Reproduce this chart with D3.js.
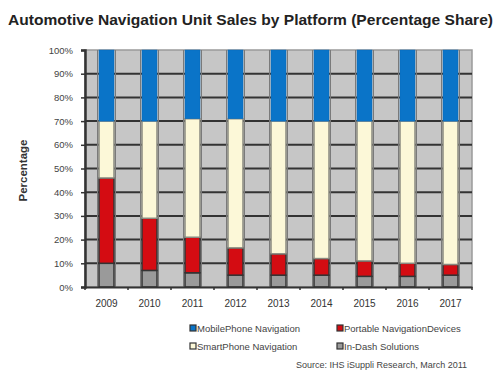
<!DOCTYPE html>
<html>
<head>
<meta charset="utf-8">
<script src="https://cdn.jsdelivr.net/npm/d3@7"></script>
<style>
  body { margin: 0; background: #fff; }
  svg { font-family: "Liberation Sans", Arial, sans-serif; }
</style>
</head>
<body>
<div id="chart"></div>
<script>
const years = ['2009', '2010', '2011', '2012', '2013', '2014', '2015', '2016', '2017'];
const inDash = [10, 7, 6, 5, 5, 5, 4.5, 4.5, 5];
const portable = [36, 22, 15, 11.5, 9, 7, 6.5, 5.5, 4.5];
const smartPhone = [24, 41, 50, 54.5, 56, 58, 59, 60, 60.5];
const mobilePhone = [30, 30, 29, 29, 30, 30, 30, 30, 30];
const yTicks = [0, 10, 20, 30, 40, 50, 60, 70, 80, 90, 100];

const series = [
  { key: 'inDash', name: 'In-Dash Solutions', values: inDash, color: '#9a9a9a' },
  { key: 'portable', name: 'Portable NavigationDevices', values: portable, color: '#d40c12' },
  { key: 'smartPhone', name: 'SmartPhone Navigation', values: smartPhone, color: '#fcf8d8' },
  { key: 'mobilePhone', name: 'MobilePhone Navigation', values: mobilePhone, color: '#0a74c8' }
];

const width = 500, height = 375;
const margin = { top: 50, right: 28, bottom: 88, left: 85 };
const innerW = width - margin.left - margin.right;
const innerH = height - margin.top - margin.bottom;

const rows = years.map((y, i) => {
  const r = { year: y };
  series.forEach(s => { r[s.key] = s.values[i]; });
  return r;
});

const stack = d3.stack().keys(series.map(s => s.key));
const stacked = stack(rows);

const x = d3.scaleBand().domain(years).range([0, innerW]);
const y = d3.scaleLinear().domain([0, 100]).range([innerH, 0]);
const barW = 15;

const svg = d3.select('#chart').append('svg')
  .attr('width', width)
  .attr('height', height);

svg.append('text')
  .attr('x', 8)
  .attr('y', 25)
  .attr('font-size', '15px')
  .attr('font-weight', 'bold')
  .attr('fill', '#222')
  .attr('textLength', 485)
  .attr('lengthAdjust', 'spacingAndGlyphs')
  .text('Automotive Navigation Unit Sales by Platform (Percentage Share)');

const g = svg.append('g')
  .attr('transform', `translate(${margin.left},${margin.top})`);

// plot background
g.append('rect')
  .attr('width', innerW)
  .attr('height', innerH)
  .attr('fill', '#c6c6c6')
  .attr('stroke', '#9a9a9a')
  .attr('stroke-width', 1.5);

// horizontal grid
g.selectAll('.grid')
  .data(yTicks.slice(1, -1))
  .join('line')
  .attr('x1', 0)
  .attr('x2', innerW)
  .attr('y1', d => y(d))
  .attr('y2', d => y(d))
  .attr('stroke', '#333')
  .attr('stroke-width', 2);

// faint vertical lines along bar sides
g.selectAll('.vline')
  .data(years.flatMap(yr => [x(yr) + x.bandwidth() / 2 - barW / 2 - 1.5, x(yr) + x.bandwidth() / 2 + barW / 2 + 1.5]))
  .join('line')
  .attr('x1', d => d)
  .attr('x2', d => d)
  .attr('y1', 0)
  .attr('y2', innerH)
  .attr('stroke', '#7a7a7a')
  .attr('stroke-width', 1);

// bars
const layer = g.selectAll('.layer')
  .data(stacked)
  .join('g')
  .attr('fill', (d, i) => series[i].color);

layer.selectAll('rect')
  .data(d => d.map(v => ({ v, key: d.key })))
  .join('rect')
  .attr('x', d => x(d.v.data.year) + x.bandwidth() / 2 - barW / 2)
  .attr('width', barW)
  .attr('y', d => y(d.v[1]))
  .attr('height', d => y(d.v[0]) - y(d.v[1]))
  .attr('stroke', d => d.key === 'smartPhone' ? '#8a8a80' : (d.key === 'mobilePhone' ? '#0a6ab8' : '#333'))
  .attr('stroke-width', d => d.key === 'mobilePhone' ? 0.5 : 1.5);

// y axis
const yAxis = g.append('g')
  .call(d3.axisLeft(y).tickValues(yTicks).tickFormat(d => d + '%').tickSize(4));
yAxis.select('.domain').attr('stroke', '#333').attr('stroke-width', 2.5);
yAxis.selectAll('.tick line').attr('stroke', '#333').attr('stroke-width', 1.5);
yAxis.selectAll('text')
  .attr('font-size', '9.5px')
  .attr('fill', '#444')
  .attr('x', -12);

// x axis
const xAxis = g.append('g')
  .attr('transform', `translate(0,${innerH})`)
  .call(d3.axisBottom(x).tickSize(0).tickPadding(13));
xAxis.select('.domain').attr('stroke', '#333').attr('stroke-width', 2);
xAxis.selectAll('text')
  .attr('font-size', '10px')
  .attr('fill', '#333');

// ticks at band boundaries
g.selectAll('.xtick')
  .data(years.map(yr => x(yr)).concat([innerW]))
  .join('line')
  .attr('x1', d => d)
  .attr('x2', d => d)
  .attr('y1', innerH)
  .attr('y2', innerH + 3)
  .attr('stroke', '#333')
  .attr('stroke-width', 1.5);

svg.append('text')
  .attr('transform', `translate(27,${margin.top + innerH / 2 + 2}) rotate(-90)`)
  .attr('text-anchor', 'middle')
  .attr('font-size', '11.5px')
  .attr('font-weight', 'bold')
  .attr('fill', '#333')
  .text('Percentage');

// legend
const legendItems = [
  { s: series[3], x: 190, y: 329 },
  { s: series[1], x: 337, y: 329 },
  { s: series[2], x: 190, y: 347 },
  { s: series[0], x: 337, y: 347 }
];
const leg = svg.selectAll('.leg')
  .data(legendItems)
  .join('g')
  .attr('transform', d => `translate(${d.x},${d.y})`);
leg.append('rect')
  .attr('x', 0)
  .attr('y', -4)
  .attr('width', 6)
  .attr('height', 6)
  .attr('fill', d => d.s.color)
  .attr('stroke', '#333')
  .attr('stroke-width', 1.2);
leg.append('text')
  .attr('x', 7)
  .attr('y', 2.5)
  .attr('font-size', '9.5px')
  .attr('fill', '#444')
  .text(d => d.s.name);

svg.append('text')
  .attr('x', 467)
  .attr('y', 368)
  .attr('text-anchor', 'end')
  .attr('font-size', '9px')
  .attr('fill', '#444')
  .text('Source: IHS iSuppli Research, March 2011');
</script>
</body>
</html>
